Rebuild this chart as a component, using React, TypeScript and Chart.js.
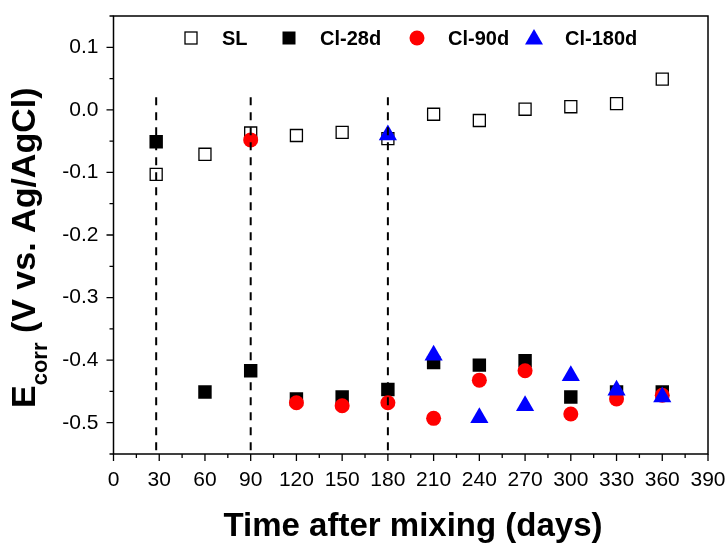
import React, { useEffect, useRef } from 'react';
import { Chart, registerables } from 'chart.js';

Chart.register(...registerables);

const FONT = '"Liberation Sans", Arial, Helvetica, sans-serif';

// ---- data ----
const SL_DAYS = [28, 60, 90, 120, 150, 180, 210, 240, 270, 300, 330, 360];
const SL_VALUES = [-0.103, -0.071, -0.037, -0.041, -0.036, -0.046, -0.007, -0.017, 0.001, 0.005, 0.010, 0.049];

const CL28_DAYS = [28, 60, 90, 120, 150, 180, 210, 240, 270, 300, 330, 360];
const CL28_VALUES = [-0.051, -0.451, -0.417, -0.462, -0.459, -0.447, -0.404, -0.408, -0.401, -0.459, -0.451, -0.451];

const CL90_DAYS = [90, 120, 150, 180, 210, 240, 270, 300, 330, 360];
const CL90_VALUES = [-0.048, -0.468, -0.473, -0.468, -0.493, -0.432, -0.417, -0.486, -0.462, -0.456];

const CL180_DAYS = [180, 210, 240, 270, 300, 330, 360];
const CL180_VALUES = [-0.040, -0.392, -0.492, -0.473, -0.425, -0.448, -0.459];

const DASH_DAYS = [28, 90, 180];
const DASH_TOP = 0.02;
const DASH_BOTTOM = -0.55;

const X_TICKS = [0, 30, 60, 90, 120, 150, 180, 210, 240, 270, 300, 330, 360, 390];
const X_MINOR = [15, 45, 75, 105, 135, 165, 195, 225, 255, 285, 315, 345, 375];
const Y_TICKS = [-0.5, -0.4, -0.3, -0.2, -0.1, 0.0, 0.1];
const Y_MINOR = [-0.55, -0.45, -0.35, -0.25, -0.15, -0.05, 0.05, 0.15];

const LEGEND_LABELS = ['SL', 'Cl-28d', 'Cl-90d', 'Cl-180d'];
const X_TITLE = 'Time after mixing (days)';

const toPoints = (xs: number[], ys: number[]) => xs.map((x, i) => ({ x, y: ys[i] }));

const decorPlugin = {
  id: 'decor',
  afterDraw(chart: any) {
    const { ctx, chartArea } = chart;
    const xs = chart.scales.x;
    const ys = chart.scales.y;
    ctx.save();
    ctx.strokeStyle = '#000';
    ctx.fillStyle = '#000';
    // frame
    ctx.lineWidth = 1.5;
    ctx.strokeRect(chartArea.left, chartArea.top, chartArea.right - chartArea.left, chartArea.bottom - chartArea.top);
    // ticks
    ctx.lineWidth = 1.3;
    ctx.beginPath();
    X_TICKS.forEach((v) => {
      const p = xs.getPixelForValue(v);
      ctx.moveTo(p, chartArea.bottom);
      ctx.lineTo(p, chartArea.bottom + 7);
    });
    X_MINOR.forEach((v) => {
      const p = xs.getPixelForValue(v);
      ctx.moveTo(p, chartArea.bottom);
      ctx.lineTo(p, chartArea.bottom + 4);
    });
    Y_TICKS.forEach((v) => {
      const p = ys.getPixelForValue(v);
      ctx.moveTo(chartArea.left, p);
      ctx.lineTo(chartArea.left - 7, p);
    });
    Y_MINOR.forEach((v) => {
      const p = ys.getPixelForValue(v);
      ctx.moveTo(chartArea.left, p);
      ctx.lineTo(chartArea.left - 4, p);
    });
    ctx.stroke();

    // legend
    const ly = 38;
    const symX = [191, 289, 417, 534];
    const txtX = [222, 320, 448, 565];
    ctx.lineWidth = 1.3;
    ctx.strokeStyle = '#000';
    ctx.fillStyle = '#fff';
    ctx.fillRect(symX[0] - 6, ly - 6, 12, 12);
    ctx.strokeRect(symX[0] - 6, ly - 6, 12, 12);
    ctx.fillStyle = '#000';
    ctx.fillRect(symX[1] - 6.5, ly - 6.5, 13, 13);
    ctx.fillStyle = '#ff0000';
    ctx.beginPath();
    ctx.arc(symX[2], ly, 7.5, 0, Math.PI * 2);
    ctx.fill();
    ctx.fillStyle = '#0000ff';
    ctx.beginPath();
    ctx.moveTo(symX[3], ly - 9);
    ctx.lineTo(symX[3] + 9, ly + 6.5);
    ctx.lineTo(symX[3] - 9, ly + 6.5);
    ctx.closePath();
    ctx.fill();
    ctx.fillStyle = '#000';
    ctx.font = `bold 20px ${FONT}`;
    ctx.textAlign = 'left';
    ctx.textBaseline = 'alphabetic';
    LEGEND_LABELS.forEach((t, i) => ctx.fillText(t, txtX[i], 45));

    // x title
    ctx.font = `bold 33px ${FONT}`;
    ctx.textAlign = 'center';
    ctx.fillText(X_TITLE, 413, 536);

    // y title with subscript
    ctx.save();
    ctx.translate(35, 408);
    ctx.rotate(-Math.PI / 2);
    ctx.textAlign = 'left';
    ctx.font = `bold 34px ${FONT}`;
    ctx.fillText('E', 0, 0);
    let w = ctx.measureText('E').width;
    ctx.font = `bold 22px ${FONT}`;
    ctx.fillText('corr', w, 12);
    w += ctx.measureText('corr').width;
    ctx.font = `bold 34px ${FONT}`;
    ctx.fillText(' (V vs. Ag/AgCl)', w, 0);
    ctx.restore();

    ctx.restore();
  },
};

export default function App() {
  const ref = useRef<HTMLCanvasElement | null>(null);
  useEffect(() => {
    document.body.style.margin = '0';
    const canvas = ref.current;
    if (!canvas) return;
    const dashSets = DASH_DAYS.map((d) => ({
      type: 'line' as const,
      label: 'dash' + d,
      data: [{ x: d, y: DASH_TOP }, { x: d, y: DASH_BOTTOM }],
      borderColor: '#000',
      borderWidth: 2,
      borderDash: [8, 7],
      pointRadius: 0,
      showLine: true,
      order: 0,
    }));
    const chart = new Chart(canvas, {
      type: 'scatter',
      data: {
        datasets: [
          {
            label: 'SL',
            data: toPoints(SL_DAYS, SL_VALUES),
            pointStyle: 'rect',
            pointRadius: 8.5,
            backgroundColor: '#fff',
            borderColor: '#000',
            borderWidth: 1.3,
            order: 4,
          },
          {
            label: 'Cl-28d',
            data: toPoints(CL28_DAYS, CL28_VALUES),
            pointStyle: 'rect',
            pointRadius: 9.5,
            backgroundColor: '#000',
            borderColor: '#000',
            borderWidth: 0,
            order: 3,
          },
          {
            label: 'Cl-90d',
            data: toPoints(CL90_DAYS, CL90_VALUES),
            pointStyle: 'circle',
            pointRadius: 7.5,
            backgroundColor: '#ff0000',
            borderColor: '#ff0000',
            borderWidth: 0,
            order: 2,
          },
          {
            label: 'Cl-180d',
            data: toPoints(CL180_DAYS, CL180_VALUES),
            pointStyle: 'triangle',
            pointRadius: 10.5,
            backgroundColor: '#0000ff',
            borderColor: '#0000ff',
            borderWidth: 0,
            order: 1,
          },
          ...dashSets,
        ] as any,
      },
      options: {
        animation: false,
        responsive: false,
        layout: { padding: { top: 16, right: 20, left: 0, bottom: 0 } },
        plugins: { legend: { display: false }, tooltip: { enabled: false } },
        scales: {
          x: {
            type: 'linear',
            min: 0,
            max: 390,
            afterBuildTicks: (s: any) => {
              s.ticks = X_TICKS.map((v) => ({ value: v }));
            },
            afterFit: (s: any) => {
              s.height = 89;
              s.paddingLeft = 0;
              s.paddingRight = 0;
            },
            grid: { display: false, drawTicks: false },
            border: { display: false },
            ticks: {
              color: '#000',
              font: { family: FONT, size: 21 },
              padding: 14,
              autoSkip: false,
              maxRotation: 0,
              callback: (v: any) => String(v),
            },
          },
          y: {
            type: 'linear',
            min: -0.55,
            max: 0.15,
            afterBuildTicks: (s: any) => {
              s.ticks = Y_TICKS.map((v) => ({ value: v }));
            },
            afterFit: (s: any) => {
              s.width = 113.5;
              s.paddingTop = 0;
              s.paddingBottom = 0;
            },
            grid: { display: false, drawTicks: false },
            border: { display: false },
            ticks: {
              color: '#000',
              font: { family: FONT, size: 21 },
              padding: 15,
              callback: (v: any) => Number(v).toFixed(1),
            },
          },
        },
      } as any,
      plugins: [decorPlugin],
    });
    return () => chart.destroy();
  }, []);
  return (
    <div style={{ width: 728, height: 543, background: '#fff' }}>
      <canvas ref={ref} width={728} height={543} style={{ display: 'block' }} />
    </div>
  );
}
